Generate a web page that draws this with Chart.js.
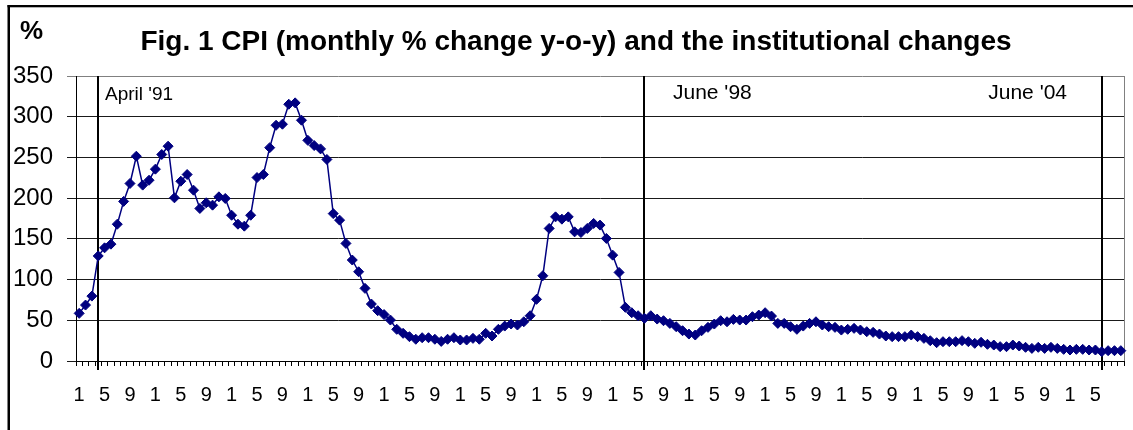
<!DOCTYPE html>
<html>
<head>
<meta charset="utf-8">
<script src="https://cdn.jsdelivr.net/npm/chart.js@4.4.1/dist/chart.umd.min.js"></script>
<style>
  html, body { margin: 0; padding: 0; background: #fff; overflow: hidden; }
  #wrap { width: 1133px; height: 430px; }
</style>
</head>
<body>
<div id="wrap"><canvas id="c" width="1133" height="430"></canvas></div>
<script>
// ---- data ----
const years = [1991, 1992, 1993, 1994, 1995, 1996, 1997, 1998, 1999, 2000, 2001, 2002, 2003, 2004];
const monthNumbers = [1, 2, 3, 4, 5, 6, 7, 8, 9, 10, 11, 12];
const cpiYoY = [
  58.5, 68.7, 79.7, 129, 139, 143.5, 168, 196, 218, 251.5,
  216, 222, 235.6, 253.6, 263.8, 200.4, 220.8, 229, 209.8, 187.3,
  194.3, 191.4, 201.6, 199.6, 179, 168, 165.6, 179, 225.3, 229,
  262, 289.5, 290.8, 315.3, 317, 295.7, 271, 264.6, 260.5, 247.5,
  181, 173, 144.4, 124, 109.6, 89.2, 70, 61.8, 57, 50.3,
  38.9, 34, 29.9, 26.7, 28.6, 28.6, 26.7, 24.1, 26.7, 28.6,
  25.8, 25.8, 27.8, 26.7, 34, 30.7, 38.9, 42.9, 45.4, 44.2,
  48.2, 55.6, 75.7, 104.7, 162.8, 177, 174.2, 177, 158.6, 157.8,
  162.8, 168.9, 166.9, 150.5, 130, 108.8, 65.9, 59.3, 55.6, 52.4,
  55.6, 51.5, 49.5, 46.2, 42.1, 37.2, 33.1, 31.9, 37.2, 41.3,
  45.4, 49.5, 48.2, 51.1, 50.3, 50.3, 54.4, 56.4, 59.3, 55.2,
  46.2, 46.2, 42.1, 38.9, 42.9, 46.2, 48.2, 44.2, 42.1, 41.3,
  38, 38.9, 40.1, 38, 36, 35.2, 33.1, 30.7, 29.9, 29.9,
  29.9, 31.9, 29.9, 27.8, 24.9, 22.5, 23.7, 23.7, 23.7, 25,
  23.7, 21.7, 23, 20.5, 19.6, 17.6, 17.6, 19.6, 18.4, 16.8,
  15.5, 16.8, 15.5, 16.8, 15.5, 14.3, 13.5, 14.3, 14.3, 13.5,
  13.5, 11.5, 12.7, 12.7, 12.7
];
const yTickValues = [0, 50, 100, 150, 200, 250, 300, 350];
const eventLabels = ["April '91", "June '98", "June '04"];
const eventYears = [1991, 1998, 2004];
const eventMonths = [4, 6, 6];
const titleText = 'Fig. 1 CPI (monthly % change y-o-y) and the institutional changes';
const unitText = '%';

// categories: one per month, label = month number
const categories = [];
years.forEach(y => monthNumbers.forEach(m => categories.push(String(m))));
categories.length = cpiYoY.length;
const eventIndex = eventYears.map((y, i) => (y - years[0]) * 12 + eventMonths[i] - 1);

// ---- styles ----
const FONT = "'Liberation Sans', Arial, sans-serif";
const eventLabelStyle = [
  { dx: 7, align: 'left', size: 19, y: 95 },
  { dx: 29, align: 'left', size: 21, y: 93 },
  { dx: -35, align: 'right', size: 21, y: 93 }
];

const decor = {
  id: 'decor',
  beforeDraw(chart) {
    const ctx = chart.ctx;
    ctx.save();
    ctx.fillStyle = '#fff';
    ctx.fillRect(0, 0, chart.width, chart.height);
    ctx.restore();
  },
  beforeDatasetsDraw(chart) {
    const ctx = chart.ctx, a = chart.chartArea, xs = chart.scales.x;
    ctx.save();
    // right plot border (grey)
    ctx.strokeStyle = '#808080';
    ctx.lineWidth = 1;
    ctx.beginPath();
    ctx.moveTo(Math.round(a.right) + 0.5, a.top);
    ctx.lineTo(Math.round(a.right) + 0.5, a.bottom);
    ctx.stroke();
    // event lines
    ctx.strokeStyle = '#000';
    ctx.lineWidth = 2;
    eventIndex.forEach((idx, i) => {
      const x = Math.round(xs.getPixelForValue(idx));
      ctx.beginPath();
      ctx.moveTo(x, a.top);
      ctx.lineTo(x, a.bottom + 9);
      ctx.stroke();
      const st = eventLabelStyle[i];
      ctx.fillStyle = '#000';
      ctx.font = st.size + 'px ' + FONT;
      ctx.textAlign = st.align;
      ctx.textBaseline = 'middle';
      ctx.fillText(eventLabels[i], x + st.dx, st.y);
    });
    ctx.restore();
  },
  afterDraw(chart) {
    const ctx = chart.ctx;
    ctx.save();
    ctx.fillStyle = '#000';
    // outer frame (left & top)
    ctx.fillRect(7.5, 5, 2.5, chart.height);
    ctx.fillRect(7.5, 5, chart.width, 2.3);
    // unit label
    ctx.font = 'bold 26px ' + FONT;
    ctx.textAlign = 'left';
    ctx.textBaseline = 'middle';
    ctx.fillText(unitText, 20, 32);
    // title
    ctx.font = 'bold 28px ' + FONT;
    ctx.textAlign = 'center';
    ctx.fillText(titleText, 576, 42);
    ctx.restore();
  }
};

new Chart(document.getElementById('c'), {
  type: 'line',
  data: {
    labels: categories,
    datasets: [{
      data: cpiYoY,
      borderColor: '#000080',
      backgroundColor: '#000080',
      borderWidth: 1.5,
      pointStyle: 'rectRot',
      pointRadius: 5,
      pointBorderWidth: 1,
      pointBackgroundColor: '#000080',
      pointBorderColor: '#000080',
      tension: 0,
      fill: false
    }]
  },
  options: {
    responsive: false,
    animation: false,
    devicePixelRatio: 1,
    layout: { padding: { left: 0, right: 9, top: 76, bottom: 0 } },
    plugins: {
      legend: { display: false },
      tooltip: { enabled: false },
      title: { display: false }
    },
    scales: {
      x: {
        type: 'category',
        offset: true,
        grid: {
          offset: true,
          drawOnChartArea: false,
          drawTicks: true,
          tickLength: 5,
          color: '#000',
          tickColor: '#000',
          lineWidth: 1
        },
        border: { display: true, color: '#000', width: 1 },
        ticks: {
          autoSkip: false,
          maxRotation: 0,
          minRotation: 0,
          padding: 17,
          color: '#000',
          font: { family: FONT, size: 20 },
          callback: function (val, idx) {
            return (idx % 4 === 0 && idx + 4 < categories.length) ? this.getLabelForValue(val) : '';
          }
        },
        afterFit(scale) {
          scale.height = 69;
          scale.paddingLeft = 0;
          scale.paddingRight = 0;
        }
      },
      y: {
        min: yTickValues[0],
        max: yTickValues[yTickValues.length - 1],
        afterBuildTicks(scale) { scale.ticks = yTickValues.map(v => ({ value: v })); },
        grid: {
          drawTicks: true,
          tickLength: 9,
          color: ctx => (ctx.tick && ctx.tick.value === 350) ? '#808080' : '#1a1a1a',
          tickColor: ctx => (ctx.tick && ctx.tick.value === 350) ? '#808080' : '#1a1a1a',
          lineWidth: 1
        },
        border: { display: true, color: '#000', width: 1 },
        ticks: {
          padding: 14,
          color: '#000',
          font: { family: FONT, size: 24 }
        },
        afterFit(scale) { scale.width = 76; }
      }
    }
  },
  plugins: [decor]
});
</script>
</body>
</html>
